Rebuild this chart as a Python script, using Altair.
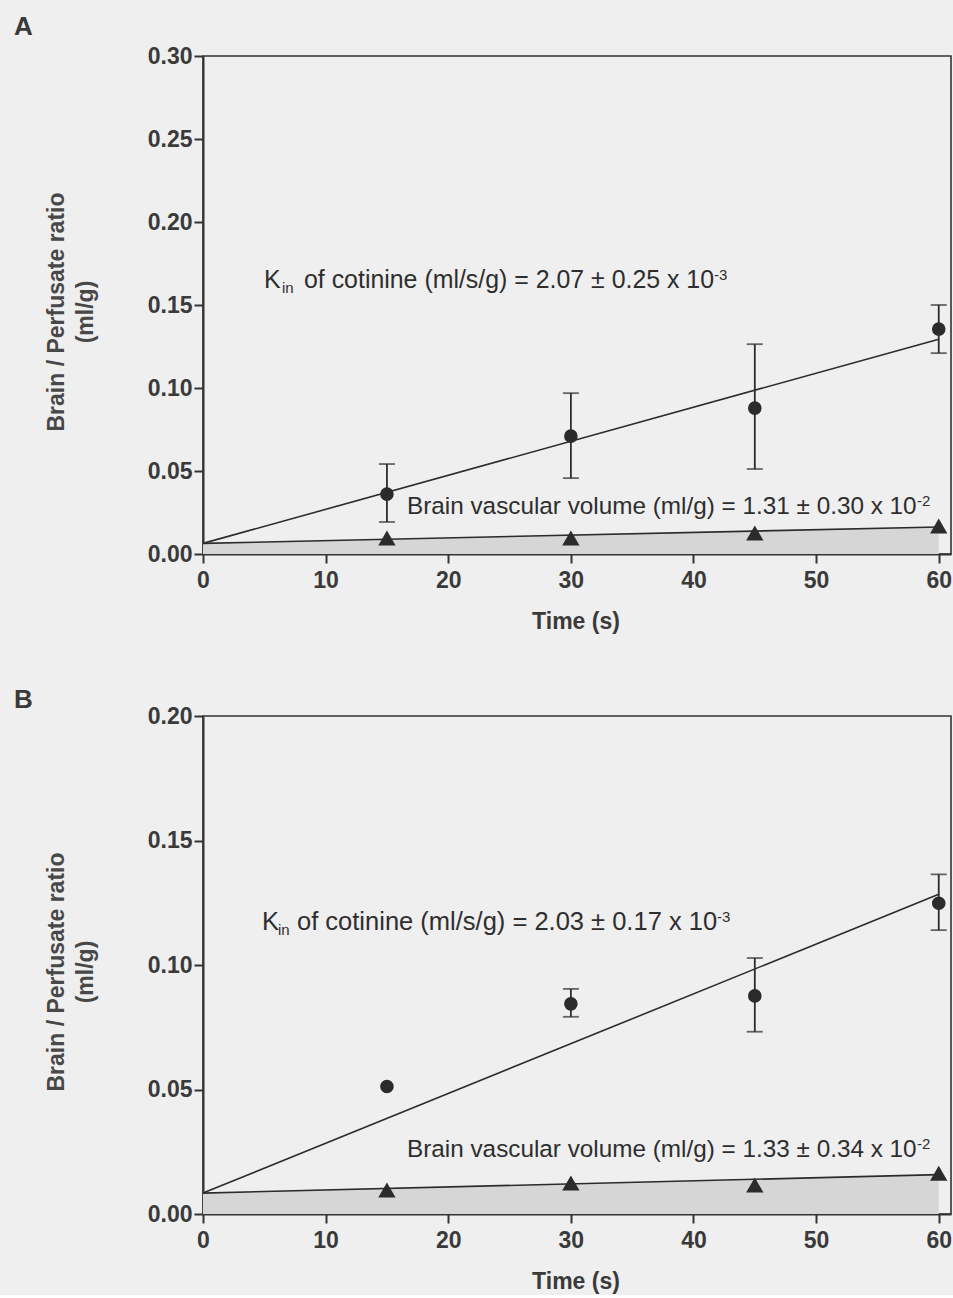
import altair as alt
import pandas as pd

# ---------------- data ----------------
time_s = [15, 30, 45, 60]
fit_x = [0, 60]

# Panel A
a_cot = [0.0361, 0.0710, 0.0879, 0.1355]
a_cot_lo = [0.0193, 0.0457, 0.0512, 0.1210]
a_cot_hi = [0.0542, 0.0969, 0.1264, 0.1500]
a_vas = [0.0096, 0.0096, 0.0126, 0.0169]
a_fit_cot = [0.0064, 0.1294]
a_fit_vas = [0.0064, 0.0163]

# Panel B
b_cot = [0.0512, 0.0844, 0.0876, 0.1248]
b_cot_lo = [None, 0.0792, 0.0732, 0.1140]
b_cot_hi = [None, 0.0904, 0.1028, 0.1364]
b_vas = [0.0096, 0.0124, 0.0116, 0.0164]
b_fit_cot = [0.0084, 0.1284]
b_fit_vas = [0.0084, 0.0158]

x_ticks = [0, 10, 20, 30, 40, 50, 60]
a_y_ticks = [0.0, 0.05, 0.10, 0.15, 0.20, 0.25, 0.30]
b_y_ticks = [0.0, 0.05, 0.10, 0.15, 0.20]

y_title = ["Brain / Perfusate ratio", "(ml/g)"]
x_title = "Time (s)"

a_kin = ["K", "in", "of cotinine (ml/s/g) = 2.07 \u00b1 0.25 x 10", "-3"]
a_vol = ["Brain vascular volume (ml/g) = 1.31 \u00b1 0.30 x 10", "-2"]
b_kin = ["K", "in", "of cotinine (ml/s/g) = 2.03 \u00b1 0.17 x 10", "-3"]
b_vol = ["Brain vascular volume (ml/g) = 1.33 \u00b1 0.34 x 10", "-2"]

# ---------------- styling ----------------
FONT = "Liberation Sans"
INK = "#2b2b2b"
TXT = "#2e2e2e"
W, H = 748, 498


def txt(text, x, y, size, weight="normal", align="left", baseline="alphabetic",
        angle=None, color=TXT):
    kw = dict(align=align, baseline=baseline, fontSize=size, fontWeight=weight,
              font=FONT, color=color)
    if angle is not None:
        kw["angle"] = angle
    return alt.Chart(pd.DataFrame({"t": [text]})).mark_text(**kw).encode(
        x=alt.value(x), y=alt.value(y), text="t:N")


def panel(letter, cot, lo, hi, vas, fcot, fvas, ymax, yticks, kin, vol,
          kin_base, kin_x, kin_size, vol_base, letter_base):
    pts = pd.DataFrame({"t": time_s, "cot": cot, "lo": lo, "hi": hi, "vas": vas})
    fit = pd.DataFrame({"t": fit_x, "cot": fcot, "vas": fvas})

    xs = alt.Scale(domain=[0, 61], nice=False, zero=False)
    ys = alt.Scale(domain=[0, ymax], nice=False)
    xax = alt.Axis(values=x_ticks, format="d", title=None, labelFlush=False)
    yax = alt.Axis(values=yticks, format=".2f", title=None, labelFlush=False)

    X = alt.X("t:Q", scale=xs, axis=xax)

    area = alt.Chart(fit).mark_area(color="#d6d6d6", opacity=1).encode(
        x=X, y=alt.Y("vas:Q", scale=ys, axis=yax))
    l_vas = alt.Chart(fit).mark_line(color=INK, strokeWidth=1.6).encode(
        x=X, y=alt.Y("vas:Q", scale=ys, axis=yax))
    l_cot = alt.Chart(fit).mark_line(color=INK, strokeWidth=1.6).encode(
        x=X, y=alt.Y("cot:Q", scale=ys, axis=yax))

    base = alt.Chart(pts)
    err = base.mark_rule(color=INK, strokeWidth=1.8).encode(
        x=X, y=alt.Y("lo:Q", scale=ys, axis=yax), y2="hi:Q")
    cap_lo = base.mark_tick(color=INK, size=16, thickness=1.8,
                            orient="horizontal").encode(
        x=X, y=alt.Y("lo:Q", scale=ys, axis=yax))
    cap_hi = base.mark_tick(color=INK, size=16, thickness=1.8,
                            orient="horizontal").encode(
        x=X, y=alt.Y("hi:Q", scale=ys, axis=yax))
    circ = base.mark_point(shape="circle", filled=True, size=185, opacity=1,
                           color=INK).encode(
        x=X, y=alt.Y("cot:Q", scale=ys, axis=yax))
    tri = base.mark_point(shape="triangle-up", filled=True, size=300, opacity=1,
                          color=INK).encode(
        x=X, y=alt.Y("vas:Q", scale=ys, axis=yax))

    texts = [
        txt(letter, -189, letter_base, 26, weight="bold", color="#3a3a3a"),
        txt(y_title[0], -139, 256, 23, weight="bold", align="center",
            angle=270, color="#484848"),
        txt(y_title[1], -110, 256, 23, weight="bold", align="center",
            angle=270, color="#484848"),
        txt(x_title, 373, 573, 23, weight="bold", align="center",
            color="#3a3a3a"),
        txt(kin[0], kin_x[0], kin_base, kin_size),
        txt(kin[1], kin_x[1], kin_base + 5, 15),
        txt(kin[2], kin_x[2], kin_base, kin_size),
        txt(kin[3], kin_x[3], kin_base - 8, 15),
        txt(vol[0], 204, vol_base, 24.3),
        txt(vol[1], 714, vol_base - 8, 15),
    ]

    return alt.layer(area, l_vas, l_cot, err, cap_lo, cap_hi, circ, tri,
                     *texts).properties(width=W, height=H)


pa = panel("A", a_cot, a_cot_lo, a_cot_hi, a_vas, a_fit_cot, a_fit_vas,
           0.30, a_y_ticks, a_kin, a_vol, 232, [61, 79, 101, 511], 24.9, 458, -21)
pb = panel("B", b_cot, b_cot_lo, b_cot_hi, b_vas, b_fit_cot, b_fit_vas,
           0.20, b_y_ticks, b_kin, b_vol, 214, [59, 75, 94, 514], 25.5, 441, -8)

chart = alt.vconcat(pa, pb, spacing=51).properties(
    background="#efefef",
    padding={"left": 13, "top": 13, "right": 0, "bottom": 0},
).configure_view(
    stroke="#333333", strokeWidth=1.6, fill=None
).configure_axis(
    labelFont=FONT, labelFontWeight="bold", labelFontSize=23,
    labelColor="#3a3a3a", domainColor="#333333", domainWidth=2,
    tickColor="#333333", tickWidth=2, tickSize=9, grid=False,
).configure_axisY(labelPadding=2).configure_axisX(labelPadding=6)

chart.save("out.html", embed_options={"renderer": "svg", "actions": False})
